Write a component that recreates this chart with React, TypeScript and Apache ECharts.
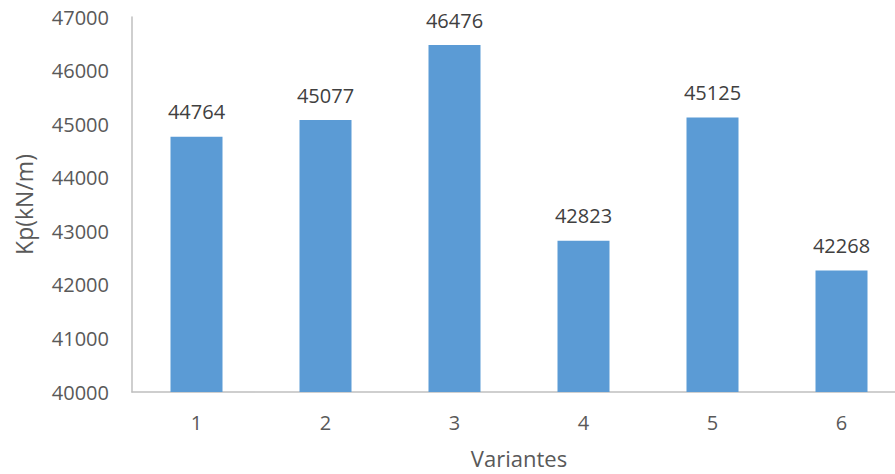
import React, { useEffect, useRef } from "react";
import * as echarts from "echarts";

const categories = ["1", "2", "3", "4", "5", "6"];
const values = [44764, 45077, 46476, 42823, 45125, 42268];
const yMin = 40000;
const yMax = 47000;
const yInterval = 1000;

export default function App() {
  const ref = useRef<HTMLDivElement>(null);
  useEffect(() => {
    if (!ref.current) return;
    const chart = echarts.init(ref.current, null, { renderer: "svg" });
    const font = "'Open Sans', 'Liberation Sans', sans-serif";
    chart.setOption({
      animation: false,
      grid: { left: 132, right: 0, top: 17, bottom: 82, outerBoundsMode: "none", containLabel: false },
      xAxis: {
        type: "category",
        data: categories,
        axisLine: { lineStyle: { color: "#bfbfbf", width: 1.5 } },
        axisTick: { show: false },
        axisLabel: { color: "#595959", fontSize: 20, fontFamily: font, margin: 20 },
        name: "Variantes",
        nameLocation: "middle",
        nameGap: 54,
        nameTextStyle: { color: "#595959", fontSize: 22, fontFamily: font, lineHeight: 24 },
      },
      yAxis: {
        type: "value",
        min: yMin,
        max: yMax,
        interval: yInterval,
        axisLine: { show: true, lineStyle: { color: "#bfbfbf", width: 1.5 } },
        axisTick: { show: false },
        splitLine: { show: false },
        axisLabel: {
          color: "#595959",
          fontSize: 20,
          fontFamily: font,
          margin: 23,
          formatter: (v: number) => String(v),
        },
        name: "Kp(kN/m)",
        nameLocation: "middle",
        nameGap: 97,
        nameTextStyle: { color: "#595959", fontSize: 23, fontFamily: font },
      },
      series: [
        {
          type: "bar",
          data: values,
          barWidth: 52,
          itemStyle: { color: "#5b9bd5" },
          label: {
            show: true,
            position: "top",
            distance: 15,
            color: "#404040",
            fontSize: 20,
            fontFamily: font,
          },
        },
      ],
    });
    return () => chart.dispose();
  }, []);
  return (
    <div style={{ position: "fixed", left: 0, top: 0, width: 895, height: 474, overflow: "hidden", background: "#fff" }}>
      <div ref={ref} style={{ width: 906, height: 474 }} />
    </div>
  );
}
